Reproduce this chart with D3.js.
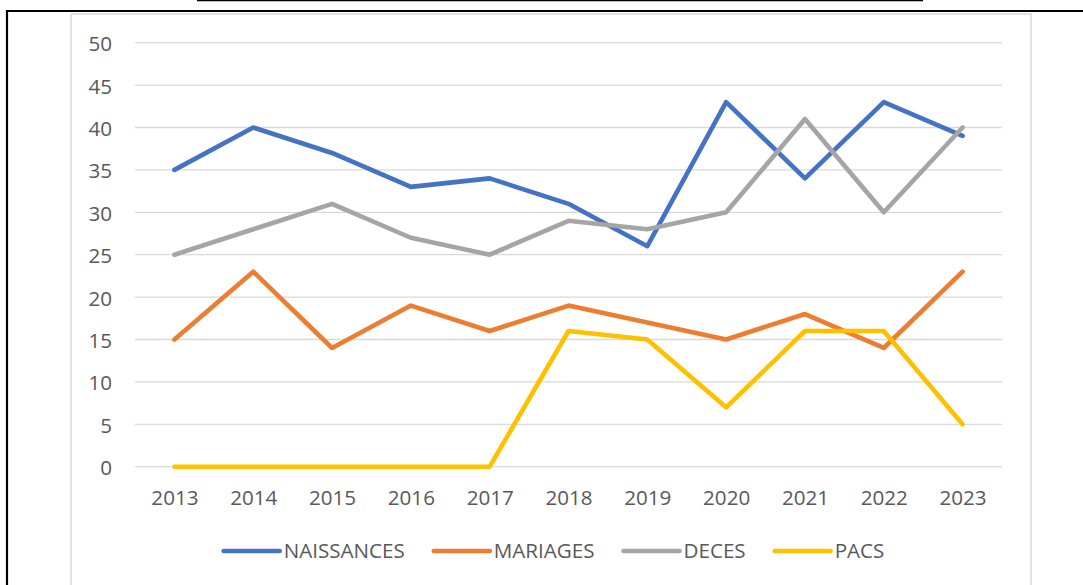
<!DOCTYPE html>
<html>
<head>
<meta charset="utf-8">
<script src="https://cdn.jsdelivr.net/npm/d3@7"></script>
<style>
  html, body { margin: 0; padding: 0; background: #fff; }
  svg { display: block; }
  text { font-family: "Open Sans", "Noto Sans", sans-serif; fill: #595959; }
</style>
</head>
<body>
<svg id="chart" width="1083" height="585"></svg>
<script>
const years = ["2013","2014","2015","2016","2017","2018","2019","2020","2021","2022","2023"];
const naissances = [35, 40, 37, 33, 34, 31, 26, 43, 34, 43, 39];
const mariages   = [15, 23, 14, 19, 16, 19, 17, 15, 18, 14, 23];
const deces      = [25, 28, 31, 27, 25, 29, 28, 30, 41, 30, 40];
const pacs       = [0, 0, 0, 0, 0, 16, 15, 7, 16, 16, 5];
const seriesNames = ["NAISSANCES", "MARIAGES", "DECES", "PACS"];
const yTicks = [0, 5, 10, 15, 20, 25, 30, 35, 40, 45, 50];

const seriesValues = [naissances, mariages, deces, pacs];
const colors = ["#4472C4", "#ED7D31", "#A5A5A5", "#FFC000"];
const FS = 20.6;

const svg = d3.select("#chart");

// document frame lines
svg.append("line").attr("x1", 197).attr("x2", 923).attr("y1", 0.6).attr("y2", 0.6)
  .attr("stroke", "#000").attr("stroke-width", 1.5);
svg.append("line").attr("x1", 6).attr("x2", 1083).attr("y1", 11).attr("y2", 11)
  .attr("stroke", "#000").attr("stroke-width", 2.2);
svg.append("line").attr("x1", 7).attr("x2", 7).attr("y1", 10).attr("y2", 585)
  .attr("stroke", "#000").attr("stroke-width", 2.2);

// chart area border
svg.append("rect").attr("x", 71).attr("y", 14).attr("width", 960).attr("height", 600)
  .attr("fill", "#fff").attr("stroke", "#D9D9D9").attr("stroke-width", 1.5);

const x = d3.scalePoint().domain(years).range([135, 1002]).padding(0.5);
const y = d3.scaleLinear().domain([0, 50]).range([466.7, 42.7]);

// gridlines
svg.append("g").selectAll("line").data(yTicks).join("line")
  .attr("x1", 135).attr("x2", 1002)
  .attr("y1", d => y(d)).attr("y2", d => y(d))
  .attr("stroke", "#D9D9D9").attr("stroke-width", 1.3);

// y axis labels
const yAxis = svg.append("g").attr("transform", "translate(112,0)")
  .call(d3.axisLeft(y).tickValues(yTicks).tickSize(0).tickPadding(0));
yAxis.select(".domain").remove();
yAxis.selectAll("text").attr("font-size", FS).attr("dy", null)
  .attr("dominant-baseline", "central").attr("fill", "#595959")
  .style("font-family", '"Open Sans", "Noto Sans", sans-serif');

// x axis labels
const xAxis = svg.append("g").attr("transform", "translate(0,466.7)")
  .call(d3.axisBottom(x).tickSize(0).tickPadding(0));
xAxis.select(".domain").remove();
xAxis.selectAll("text").attr("font-size", FS).attr("y", 38.5).attr("dy", null)
  .attr("fill", "#595959")
  .style("font-family", '"Open Sans", "Noto Sans", sans-serif');

// lines
const line = d3.line().x((d, i) => x(years[i])).y(d => y(d));
seriesValues.forEach((vals, i) => {
  svg.append("path").datum(vals)
    .attr("d", line)
    .attr("fill", "none")
    .attr("stroke", colors[i])
    .attr("stroke-width", 4.6)
    .attr("stroke-linejoin", "round")
    .attr("stroke-linecap", "round");
});

// legend
const legend = svg.append("g");
const items = seriesNames.map((name, i) => {
  const g = legend.append("g");
  g.append("line").attr("x1", 0).attr("x2", 56).attr("y1", 0).attr("y2", 0)
    .attr("stroke", colors[i]).attr("stroke-width", 4.6).attr("stroke-linecap", "round");
  const t = g.append("text").attr("x", 60).attr("y", 7).attr("font-size", FS).text(name);
  return { g, w: 60 + t.node().getComputedTextLength() };
});
const gap = 29;
const total = d3.sum(items, d => d.w) + gap * (items.length - 1);
let cx = 554 - total / 2;
items.forEach(it => {
  it.g.attr("transform", `translate(${cx},551)`);
  cx += it.w + gap;
});
</script>
</body>
</html>
